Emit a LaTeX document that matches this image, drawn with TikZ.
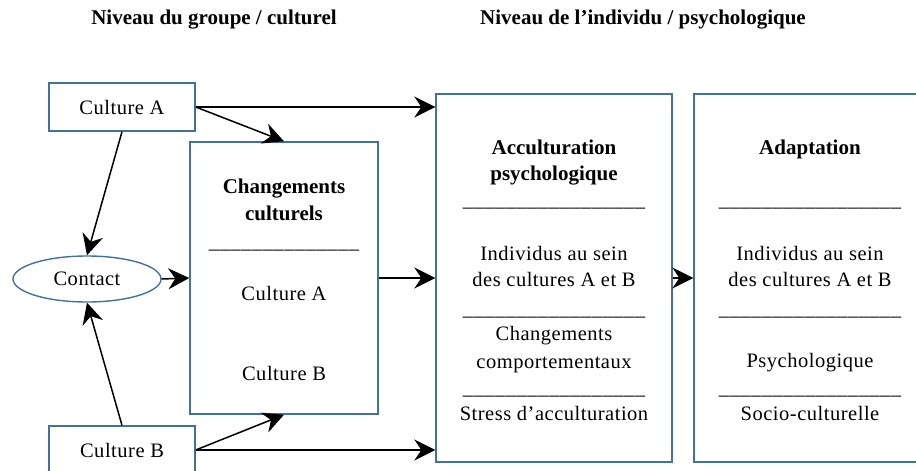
\documentclass[tikz,border=0pt]{standalone}
\usepackage{fontspec}
\setmainfont{Liberation Serif}[Ligatures=TeX]
\newfontfamily\timesface{Liberation Serif}[LetterSpace=2.5]
\newfontfamily\timesbold{Liberation Serif}[Ligatures=TeX]
\usetikzlibrary{arrows.meta,shapes.geometric}
\definecolor{frame}{RGB}{65,113,156}
\newcommand\bodyfont{\timesface\fontsize{20.5}{26}\selectfont}
\newcommand\headfont{\timesbold\fontsize{21}{26}\selectfont\bfseries}
\newcommand\sepline[1]{\foreach \k in {1,...,#1}{\_}}
\begin{document}
\begin{tikzpicture}[x=1pt,y=-1pt,
  box/.style={draw=frame,line width=1.4pt,rectangle,inner sep=0pt,font=\bodyfont},
  oval/.style={draw=frame,line width=1.4pt,ellipse,inner sep=0pt,font=\bodyfont},
  txt/.style={anchor=base,inner sep=0pt,font=\bodyfont},
  hd/.style={anchor=base,inner sep=0pt,font=\headfont},
  link/.style={draw=black,line width=1.5pt,-{Stealth[length=21pt,width=21pt,inset=7pt]}}]
\useasboundingbox (0,0) rectangle (916,471);
\clip (0,0) rectangle (916,471);

% column headings
\node[hd] (h1) at (214,24) {Niveau du groupe / culturel};
\node[hd] (h2) at (643,24) {Niveau de l’individu / psychologique};

% group level
\node[box,minimum width=146pt,minimum height=48pt] (ca) at (122,107) {Culture A};
\node[box,minimum width=146pt,minimum height=48pt] (cb) at (122,450) {Culture B};
\node[oval,minimum width=148pt,minimum height=46pt] (ct) at (87,279) {Contact};
\node[box,minimum width=188pt,minimum height=272pt] (chg) at (284,278) {};

% individual level
\node[box,minimum width=236pt,minimum height=368pt] (acc) at (554,278) {};
\node[box,minimum width=232pt,minimum height=368pt] (adp) at (810,278) {};

% cultural changes contents
\node[hd] (chg1) at (284,193) {Changements};
\node[hd] (chg2) at (284,220) {culturels};
\node[txt] (chgs) at (284,248) {\sepline{14}};
\node[txt] (chg3) at (284,300) {Culture A};
\node[txt] (chg4) at (284,380) {Culture B};

% psychological acculturation contents
\node[hd] (acc1) at (554,154) {Acculturation};
\node[hd] (acc2) at (554,180) {psychologique};
\node[txt] (accs1) at (554,206) {\sepline{17}};
\node[txt] (acc3) at (554,260) {Individus au sein};
\node[txt] (acc4) at (554,286) {des cultures A et B};
\node[txt] (accs2) at (554,315) {\sepline{17}};
\node[txt] (acc5) at (554,340) {Changements};
\node[txt] (acc6) at (554,368) {comportementaux};
\node[txt] (accs3) at (554,394) {\sepline{17}};
\node[txt] (acc7) at (554,420) {Stress d’acculturation};

% adaptation contents
\node[hd] (adp1) at (810,154) {Adaptation};
\node[txt] (adps1) at (810,206) {\sepline{17}};
\node[txt] (adp2) at (810,260) {Individus au sein};
\node[txt] (adp3) at (810,286) {des cultures A et B};
\node[txt] (adps2) at (810,315) {\sepline{17}};
\node[txt] (adp4) at (810,367) {Psychologique};
\node[txt] (adps3) at (810,394) {\sepline{17}};
\node[txt] (adp5) at (810,420) {Socio-culturelle};

% connectors
\draw[link] (ca.east) -- (ca.east -| acc.west);
\draw[link] (ca.east) -- (chg.north);
\draw[link] (ca.south) -- (ct.north);
\draw[link] (cb.north) -- (ct.south);
\draw[link] (cb.east) -- (chg.south);
\draw[link] (cb.east) -- (cb.east -| acc.west);
\draw[link] (ct.east) -- (chg.west);
\draw[link] (chg.east) -- (acc.west);
\draw[link] (acc.east) -- (adp.west);
\end{tikzpicture}
\end{document}
